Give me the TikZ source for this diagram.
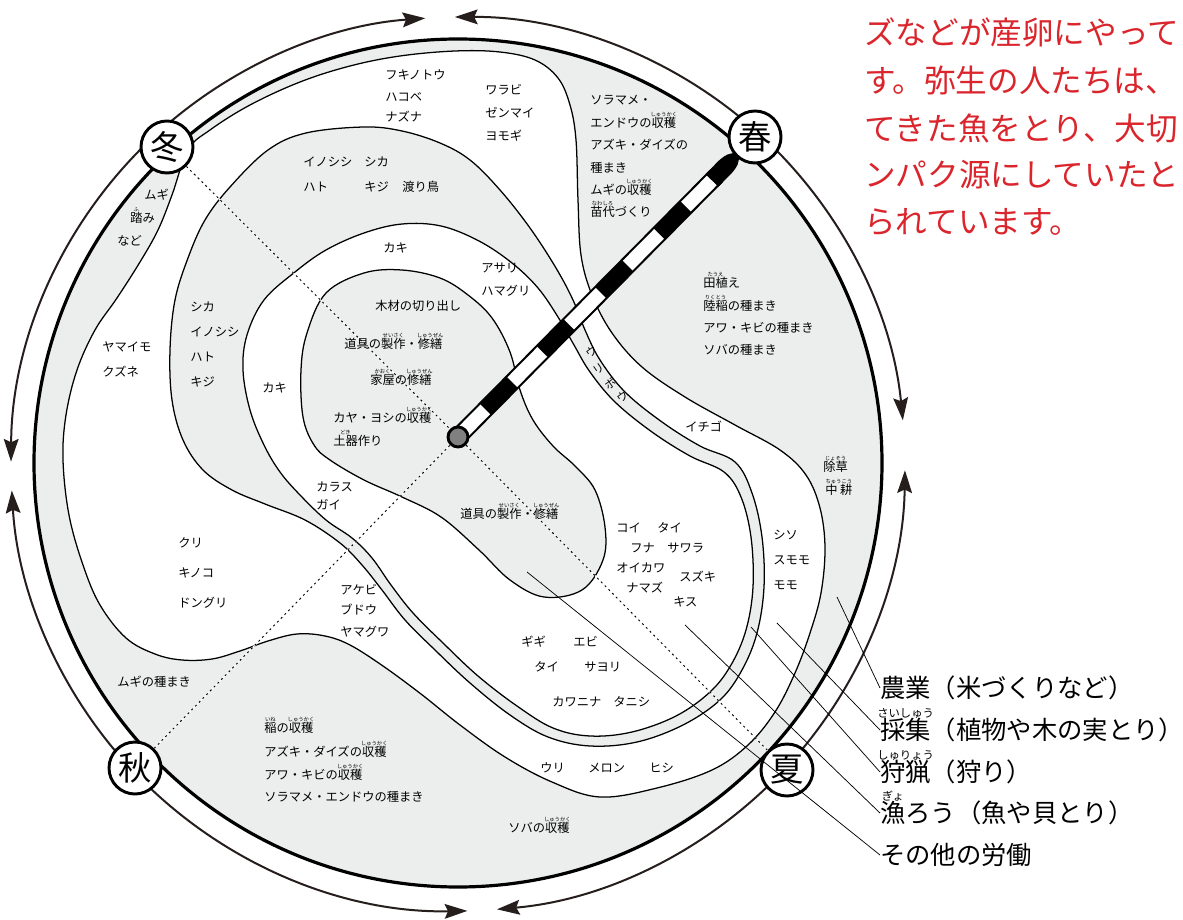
\documentclass[tikz,border=0pt]{standalone}
\usepackage{fontspec}
\setmainfont{Noto Sans CJK JP}
\usetikzlibrary{arrows.meta}
\definecolor{gfill}{RGB}{236,237,237}
\definecolor{redtxt}{RGB}{218,37,44}
\definecolor{ringc}{RGB}{38,30,28}
\definecolor{dotc}{RGB}{128,128,128}
\newsavebox\rbbox
\newcommand{\rbx}[3][4pt]{\sbox\rbbox{#2}\rlap{\makebox[\wd\rbbox]{\smash{\raisebox{\dimexpr\ht\rbbox+0.4pt\relax}{\fontsize{#1}{#1}\selectfont #3}}}}\usebox\rbbox}
\tikzset{
 lbl/.style={anchor=west, inner sep=0pt, font=\fontsize{9.2pt}{10pt}\selectfont},
 uri/.style={anchor=center, inner sep=0pt, rotate=35, font=\fontsize{8.4pt}{9pt}\selectfont},
 leg/.style={anchor=west, inner sep=0pt, font=\fontsize{19pt}{20pt}\selectfont},
 redt/.style={anchor=west, inner sep=0pt, text=redtxt, font=\fontsize{23.7pt}{24pt}\selectfont},
 season/.style={circle, draw, line width=2.2pt, fill=white, minimum size=39pt, inner sep=0pt, font=\fontsize{25pt}{25pt}\selectfont},
 region/.style={line width=0.95pt, draw=black},
 ring/.style={line width=2.4pt},
 cyc/.style={line width=1.5pt, draw=ringc, -{Stealth[length=17pt,width=11pt,inset=2.5pt]}},
 dotsw/.style={line width=0.8pt, white},
 dotsb/.style={line width=0.7pt, dash pattern=on 1.5pt off 2.5pt},
 ptr/.style={line width=0.55pt},
}
\begin{document}
\begin{tikzpicture}[x=0.75pt,y=-0.75pt]
\useasboundingbox (0,0) rectangle (1183,920);
\fill[white] (0,0) rectangle (1183,920);

% ---------- regions ----------
\fill[gfill] (458,463) circle[radius=424];
% A: agriculture inner boundary
\path[region, fill=white] plot[smooth cycle, tension=0.6] coordinates {
(188,150) (210,130) (250,105) (300,82) (350,66) (400,56) (455,51) (500,52) (535,60) (558,78) (570,105) (576,140) (578,200) (581,255) (592,295) (612,333) (642,367) (685,397) (735,425) (780,450) (806,475) (820,508) (825,548) (821,593) (810,633) (795,673) (775,712) (748,745) (712,770) (657,788) (600,797) (552,782) (505,757) (460,725) (421,694) (383,666) (350,645) (325,636) (297,634) (268,641) (240,651) (212,659) (182,660) (155,654) (126,638) (100,605) (83,565) (69,515) (63,460) (66,415) (77,370) (95,330) (117,298) (140,262) (158,230) (172,195)};
% B: hunting outer boundary
\path[region, fill=gfill] plot[smooth cycle, tension=0.6] coordinates {
(205,220) (230,187) (268,150) (306,133) (364,127) (402,131) (440,143) (470,160) (500,190) (530,228) (556,268) (573,300) (585,330) (600,360) (625,392) (662,422) (700,446) (735,462) (752,493) (762,537) (764,587) (757,633) (742,670) (720,700) (683,725) (637,742) (590,746) (548,737) (510,715) (470,683) (435,650) (405,620) (382,590) (362,565) (340,543) (305,520) (265,504) (232,490) (203,470) (183,440) (172,400) (170,350) (175,300) (188,258)};
% C: fishing outer boundary
\path[region, fill=white] plot[smooth cycle, tension=0.6] coordinates {
(295,272) (326,250) (364,233) (402,224) (441,226) (479,241) (512,263) (538,288) (558,317) (574,345) (590,372) (615,402) (652,432) (690,456) (724,472) (741,497) (751,537) (753,587) (746,630) (731,665) (710,692) (676,716) (632,732) (590,736) (553,728) (517,706) (478,676) (443,643) (413,613) (391,585) (372,558) (352,538) (326,520) (300,495) (280,472) (264,445) (250,410) (243,370) (247,335) (264,300)};
% D: other labour blob
\path[region, fill=gfill] plot[smooth cycle, tension=0.6] coordinates {
(330,460) (364,480) (402,497) (441,517) (479,550) (510,580) (544,597) (582,590) (603,560) (605,527) (595,490) (575,466) (553,446) (533,420) (520,390) (510,352) (492,318) (468,295) (440,278) (402,270) (364,273) (326,293) (307,333) (301,370) (303,417) (314,445)};
\draw[ring] (458,463) circle[radius=424];

% ---------- seasonal arrows ----------
\draw[cyc] (458,464) ++(-132.5:447) arc[start angle=-132.5, end angle=-94.2, radius=447];
\draw[cyc] (458,464) ++(-47.8:447) arc[start angle=-47.8, end angle=-90.4, radius=447];
\draw[cyc] (458,464) ++(-47.8:447) arc[start angle=-47.8, end angle=-5.6, radius=447];
\draw[cyc] (458,464) ++(42.9:447) arc[start angle=42.9, end angle=0.8, radius=447];
\draw[cyc] (458,464) ++(42.9:447) arc[start angle=42.9, end angle=85.0, radius=447];
\draw[cyc] (458,464) ++(136.7:447) arc[start angle=136.7, end angle=88.8, radius=447];
\draw[cyc] (458,464) ++(136.7:447) arc[start angle=136.7, end angle=176.6, radius=447];
\draw[cyc] (458,464) ++(227.5:447) arc[start angle=227.5, end angle=180.3, radius=447];

% ---------- striped bar ----------
\begin{scope}[shift={(458,437)}, rotate=45.3]
 \path[fill=white, draw=black, line width=1.5pt] (0,-8) rectangle (366,8);
 \fill (39,-8) rectangle (77,8);
 \fill (120,-8) rectangle (158,8);
 \fill (203,-8) rectangle (241,8);
 \fill (286,-8) rectangle (324,8);
 \path[fill=black, draw=black, line width=1.5pt] (362,-8) -- (380,-8) .. controls (390,-7) .. (399,0) .. controls (390,7) .. (380,8) -- (362,8) -- cycle;
\end{scope}

% ---------- nodes: centre and seasons ----------
\node[circle, draw, line width=2.2pt, fill=dotc, minimum size=15pt, inner sep=0pt] (ctr) at (458,437) {};
\node[season] (winter) at (167,147) {冬};
\node[season] (spring) at (755,137) {春};
\node[season] (autumn) at (135,768) {秋};
\node[season] (summer) at (787,770) {夏};

\draw[dotsw] (winter) -- (ctr);
\draw[dotsw] (ctr) -- (summer);
\draw[dotsw] (autumn) -- (ctr);
\draw[dotsb] (winter) -- (ctr);
\draw[dotsb] (ctr) -- (summer);
\draw[dotsb] (autumn) -- (ctr);

% ---------- legend ----------
\node[leg] (legA) at (880,688) {農業（米づくりなど）};
\node[leg] (legB) at (880,730) {\rbx[8.5pt]{採集}{さいしゅう}（植物や木の実とり）};
\node[leg] (legC) at (880,772) {\rbx[8.5pt]{狩猟}{しゅりょう}（狩り）};
\node[leg] (legD) at (880,813) {\rbx[8.5pt]{漁}{ぎょ}ろう（魚や貝とり）};
\node[leg] (legE) at (880,855) {その他の労働};
\coordinate (pA) at (837,597);
\coordinate (pB) at (777,623);
\coordinate (pC) at (751,627);
\coordinate (pD) at (685,625);
\coordinate (pE) at (527,572);
\draw[ptr] (pA) -- (legA.west);
\draw[ptr] (pB) -- (legB.west);
\draw[ptr] (pC) -- (legC.west);
\draw[ptr] (pD) -- (legD.west);
\draw[ptr] (pE) -- (legE.west);

% ---------- red text (cut off at the right) ----------
\begin{scope}
\clip (0,0) rectangle (1183,920);
\node[redt] (r1) at (864,32) {ズなどが産卵にやって};
\node[redt] (r2) at (864,80) {す。弥生の人たちは、};
\node[redt] (r3) at (864,128) {てきた魚をとり、大切};
\node[redt] (r4) at (864,175) {ンパク源にしていたと};
\node[redt] (r5) at (864,222) {られています。};
\end{scope}

% ---------- labels ----------
% gathering, top
\node[lbl] (g1) at (385,75) {フキノトウ};
\node[lbl] (g2) at (385,97) {ハコベ};
\node[lbl] (g3) at (385,117) {ナズナ};
\node[lbl] (g4) at (485,90) {ワラビ};
\node[lbl] (g5) at (485,113) {ゼンマイ};
\node[lbl] (g6) at (485,136) {ヨモギ};
% hunting, top
\node[lbl] (h1) at (303,162) {イノシシ};
\node[lbl] (h2) at (364,162) {シカ};
\node[lbl] (h3) at (303,187) {ハト};
\node[lbl] (h4) at (364,187) {キジ};
\node[lbl] (h5) at (402,187) {渡り鳥};
% agriculture, top right
\node[lbl] (a1) at (590,100) {ソラマメ・};
\node[lbl] (a2) at (590,123) {エンドウの\rbx{収穫}{しゅうかく}};
\node[lbl] (a3) at (590,145) {アズキ・ダイズの};
\node[lbl] (a4) at (590,168) {種まき};
\node[lbl] (a5) at (590,190) {ムギの\rbx{収穫}{しゅうかく}};
\node[lbl] (a6) at (590,212) {\rbx{苗代}{なわしろ}づくり};
% agriculture, near winter
\node[lbl] (a7) at (144,195) {ムギ};
\node[lbl] (a8) at (130,218) {\rbx{踏}{ふ}み};
\node[lbl] (a9) at (117,241) {など};
% gathering, left
\node[lbl] (g7) at (102,347) {ヤマイモ};
\node[lbl] (g8) at (102,372) {クズネ};
% hunting, left
\node[lbl] (h6) at (190,307) {シカ};
\node[lbl] (h7) at (190,332) {イノシシ};
\node[lbl] (h8) at (190,357) {ハト};
\node[lbl] (h9) at (190,382) {キジ};
% fishing, upper
\node[lbl] (f1) at (383,248) {カキ};
\node[lbl] (f2) at (481,268) {アサリ};
\node[lbl] (f3) at (481,291) {ハマグリ};
\node[lbl] (f4) at (262,388) {カキ};
\node[lbl] (f5) at (316,487) {カラス};
\node[lbl] (f6) at (316,505) {ガイ};
% other labour
\node[lbl] (o1) at (375,306) {木材の切り出し};
\node[lbl] (o2) at (344,344) {道具の\rbx{製作}{せいさく}・\rbx{修繕}{しゅうぜん}};
\node[lbl] (o3) at (370,380) {\rbx{家屋}{かおく}の\rbx{修繕}{しゅうぜん}};
\node[lbl] (o4) at (333,418) {カヤ・ヨシの\rbx{収穫}{しゅうかく}};
\node[lbl] (o5) at (333,441) {\rbx{土器}{どき}作り};
\node[lbl] (o6) at (460,514) {道具の\rbx{製作}{せいさく}・\rbx{修繕}{しゅうぜん}};
% fishing, lower
\node[lbl] (f7) at (616,528) {コイ};
\node[lbl] (f8) at (657,528) {タイ};
\node[lbl] (f9) at (630,548) {フナ};
\node[lbl] (f10) at (667,548) {サワラ};
\node[lbl] (f11) at (616,568) {オイカワ};
\node[lbl] (f12) at (679,577) {スズキ};
\node[lbl] (f13) at (626,588) {ナマズ};
\node[lbl] (f14) at (673,602) {キス};
\node[lbl] (f15) at (521,642) {ギギ};
\node[lbl] (f16) at (573,642) {エビ};
\node[lbl] (f17) at (534,667) {タイ};
\node[lbl] (f18) at (584,667) {サヨリ};
\node[lbl] (f19) at (552,702) {カワニナ};
\node[lbl] (f20) at (613,702) {タニシ};
% hunting strip
\node[uri] (u1) at (592,352) {ウ};
\node[uri] (u2) at (599,369) {リ};
\node[uri] (u3) at (611,384) {ボ};
\node[uri] (u4) at (623,397) {ウ};
% gathering, right and bottom
\node[lbl] (g9) at (685,427) {イチゴ};
\node[lbl] (g10) at (773,535) {シソ};
\node[lbl] (g11) at (773,560) {スモモ};
\node[lbl] (g12) at (773,585) {モモ};
\node[lbl] (g13) at (540,768) {ウリ};
\node[lbl] (g14) at (588,768) {メロン};
\node[lbl] (g15) at (649,768) {ヒシ};
\node[lbl] (g16) at (178,543) {クリ};
\node[lbl] (g17) at (178,573) {キノコ};
\node[lbl] (g18) at (178,603) {ドングリ};
\node[lbl] (g19) at (340,590) {アケビ};
\node[lbl] (g20) at (340,610) {ブドウ};
\node[lbl] (g21) at (340,632) {ヤマグワ};
% agriculture, right
\node[lbl] (a10) at (703,283) {\rbx{田植}{たうえ}え};
\node[lbl] (a11) at (703,306) {\rbx{陸稲}{りくとう}の種まき};
\node[lbl] (a12) at (703,328) {アワ・キビの種まき};
\node[lbl] (a13) at (703,350) {ソバの種まき};
\node[lbl] (a14) at (823,467) {\rbx{除草}{じょそう}};
\node[lbl] (a15) at (825,490) {\rbx{中\hspace{2pt}耕}{ちゅうこう}};
% agriculture, bottom
\node[lbl] (a16) at (117,682) {ムギの種まき};
\node[lbl] (a17) at (264,728) {\rbx{稲}{いね}の\rbx{収穫}{しゅうかく}};
\node[lbl] (a18) at (264,752) {アズキ・ダイズの\rbx{収穫}{しゅうかく}};
\node[lbl] (a19) at (264,775) {アワ・キビの\rbx{収穫}{しゅうかく}};
\node[lbl] (a20) at (264,797) {ソラマメ・エンドウの種まき};
\node[lbl] (a21) at (508,828) {ソバの\rbx{収穫}{しゅうかく}};
\end{tikzpicture}
\end{document}
